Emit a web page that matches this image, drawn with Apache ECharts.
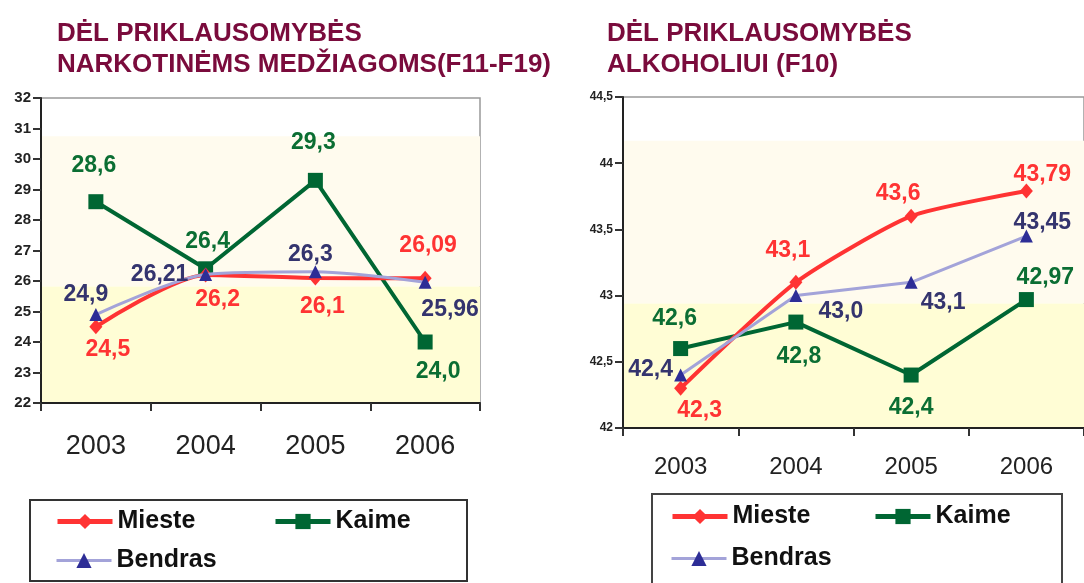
<!DOCTYPE html>
<html>
<head>
<meta charset="utf-8">
<script src="https://cdn.jsdelivr.net/npm/echarts@6/dist/echarts.min.js"></script>
<style>html,body{margin:0;padding:0;background:#fff}#c{width:1084px;height:583px}</style>
</head>
<body>
<div id="c"></div>
<script>
// ---- data ----
const years = ['2003', '2004', '2005', '2006'];
const seriesNames = ['Mieste', 'Kaime', 'Bendras'];
const titleLeft = 'DĖL PRIKLAUSOMYBĖS\nNARKOTINĖMS MEDŽIAGOMS(F11-F19)';
const titleRight = 'DĖL PRIKLAUSOMYBĖS\nALKOHOLIUI (F10)';
const drugMieste = [24.5, 26.2, 26.1, 26.09];
const drugKaime = [28.6, 26.4, 29.3, 24.0];
const drugBendras = [24.9, 26.21, 26.3, 25.96];
const alcMieste = [42.3, 43.1, 43.6, 43.79];
const alcKaime = [42.6, 42.8, 42.4, 42.97];
const alcBendras = [42.4, 43.0, 43.1, 43.45];
const drugAxis = [22, 32, 1];
const alcAxis = [42, 44.5, 0.5];

// ---- styling / build ----
const FONT = '"Liberation Sans", Arial, sans-serif';
const RED = '#ff3333', GREEN = '#006633', BLUE_LINE = '#a3a3d9', BLUE_SYM = '#2d2d96';
const LBL = { Mieste: '#ff3333', Kaime: '#0b6e33', Bendras: '#34346e' };
const fmt = v => { let s = String(v); if (s.indexOf('.') < 0) s += '.0'; return s.replace('.', ','); };

function mkData(vals, offs, name) {
  return vals.map((v, i) => ({
    value: v,
    label: { show: true, position: 'inside', offset: offs[i], align: 'center', verticalAlign: 'middle',
      color: LBL[name], fontSize: 23, fontWeight: 'bold', fontFamily: FONT, formatter: p => fmt(p.value) }
  }));
}
function mkSeries(name, vals, offs, idx, smooth, bands) {
  const base = {
    name, type: 'line', xAxisIndex: idx, yAxisIndex: idx, data: mkData(vals, offs, name),
    smooth: smooth, animation: false
  };
  if (name === 'Mieste') Object.assign(base, { symbol: 'diamond', symbolSize: [13, 15], z: 3,
    itemStyle: { color: RED }, lineStyle: { color: RED, width: 4 } });
  if (name === 'Kaime') Object.assign(base, { symbol: 'rect', symbolSize: 15, z: 2,
    itemStyle: { color: GREEN }, lineStyle: { color: GREEN, width: 4 } });
  if (name === 'Bendras') Object.assign(base, { symbol: 'triangle', symbolSize: 13, z: 4,
    itemStyle: { color: BLUE_SYM }, lineStyle: { color: BLUE_LINE, width: 3 } });
  if (bands) base.markArea = { silent: true, z: 0, data: [
    [{ yAxis: bands[0], itemStyle: { color: '#fffbee' } }, { yAxis: bands[1] }],
    [{ yAxis: bands[1], itemStyle: { color: '#fffdd5' } }, { yAxis: bands[2] }]
  ] };
  return base;
}
function mkX(idx, fs, margin) {
  return { type: 'category', gridIndex: idx, data: years, boundaryGap: true,
    axisLine: { lineStyle: { color: '#222', width: 2 } },
    axisTick: { show: true, length: 8, lineStyle: { color: '#333', width: 2 } },
    axisLabel: { fontSize: fs, color: '#222', fontFamily: FONT, margin: margin } };
}
function mkY(idx, ax, fs) {
  return { type: 'value', gridIndex: idx, min: ax[0], max: ax[1], interval: ax[2],
    splitLine: { show: false },
    axisLine: { show: true, lineStyle: { color: '#222', width: 2 } },
    axisTick: { show: true, length: 8, lineStyle: { color: '#333', width: 2 } },
    axisLabel: { fontSize: fs, fontWeight: 'bold', color: '#222', fontFamily: FONT, margin: 10,
      formatter: v => String(v).replace('.', ',') } };
}
function mkLegend(name, left, top) {
  const lw = name === 'Bendras' ? 3 : 5;
  return { data: [name], left, top, padding: 0, itemWidth: 55, itemHeight: 19, itemGap: 0,
    lineStyle: { width: lw },
    textStyle: { fontSize: 25, fontWeight: 'bold', color: '#111', fontFamily: FONT } };
}

const chart = echarts.init(document.getElementById('c'));
chart.setOption({
  animation: false,
  backgroundColor: '#ffffff',
  title: [
    { text: titleLeft, left: 57, top: 18, padding: 0, textStyle: { color: '#7a0b3c', fontSize: 26, fontWeight: 'bold', fontFamily: FONT, lineHeight: 31 } },
    { text: titleRight, left: 607, top: 18, padding: 0, textStyle: { color: '#7a0b3c', fontSize: 26, fontWeight: 'bold', fontFamily: FONT, lineHeight: 31 } }
  ],
  grid: [
    { left: 41, top: 98, width: 439, height: 305, show: true, borderColor: '#999', borderWidth: 1.5, backgroundColor: 'transparent' },
    { left: 623, top: 97, width: 472, height: 331, show: true, borderColor: '#999', borderWidth: 1.5, backgroundColor: 'transparent' }
  ],
  xAxis: [mkX(0, 27, 30), mkX(1, 24, 27)],
  yAxis: [mkY(0, drugAxis, 15), mkY(1, alcAxis, 12)],
  legend: [
    mkLegend('Mieste', 55, 509), mkLegend('Kaime', 273, 509), mkLegend('Bendras', 55, 548),
    mkLegend('Mieste', 670, 504), mkLegend('Kaime', 873, 504), mkLegend('Bendras', 670, 546)
  ],
  graphic: [
    { type: 'rect', shape: { x: 30, y: 500, width: 437, height: 81 }, style: { fill: 'none', stroke: '#333', lineWidth: 2 }, silent: true },
    { type: 'rect', shape: { x: 652, y: 494, width: 410, height: 120 }, style: { fill: 'none', stroke: '#444', lineWidth: 2 }, silent: true }
  ],
  series: [
    mkSeries('Mieste', drugMieste, [[12, 23], [12, 25], [7, 29], [3, -33]], 0, 0.25, [30.75, 25.82, 22]),
    mkSeries('Kaime', drugKaime, [[-2, -36], [2, -27], [-2, -38], [13, 30]], 0, false),
    mkSeries('Bendras', drugBendras, [[-10, -20], [-46, 0], [-5, -17], [25, 27]], 0, 0.25),
    mkSeries('Mieste', alcMieste, [[19, 22], [-8, -32], [-13, -23], [16, -16]], 1, 0.2, [44.17, 42.94, 42]),
    mkSeries('Kaime', alcKaime, [[-6, -30], [3, 35], [0, 33], [19, -22]], 1, false),
    mkSeries('Bendras', alcBendras, [[-30, -5], [45, 16], [32, 20], [16, -13]], 1, false)
  ]
});
</script>
</body>
</html>
